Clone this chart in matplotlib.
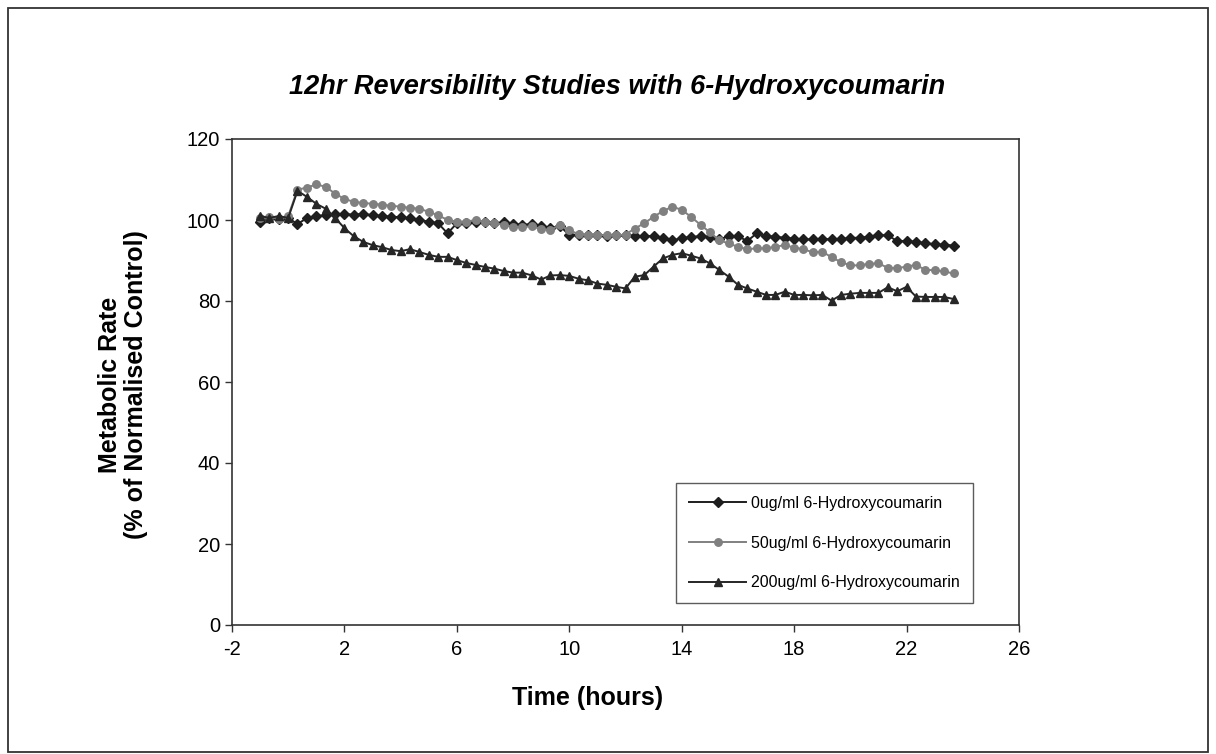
import numpy as np
import matplotlib.pyplot as plt
from matplotlib.patches import Rectangle

# DATA (one point every 20 min)
hours = np.round(np.arange(75) / 3.0 - 1.0, 2)

ctrl_0 = [99.5, 100.5, 100.2, 100.5, 99.0, 100.5, 101.0, 101.2, 101.5, 101.5,
          101.3, 101.5, 101.2, 101.0, 100.8, 100.7, 100.4, 100.0, 99.6, 99.2,
          96.7, 99.2, 99.3, 99.5, 99.6, 99.2, 99.4, 99.0, 98.8, 99.0,
          98.5, 98.0, 98.5, 96.3, 96.4, 96.2, 96.3, 96.1, 96.2, 96.3,
          96.0, 96.1, 96.0, 95.6, 95.0, 95.5, 95.8, 96.0, 95.8, 95.2,
          96.0, 96.0, 94.8, 96.7, 96.0, 95.9, 95.6, 95.4, 95.2, 95.2,
          95.2, 95.3, 95.3, 95.6, 95.6, 95.9, 96.3, 96.2, 94.8, 94.8,
          94.6, 94.3, 94.0, 93.9, 93.7]

dose_50 = [100.5, 100.8, 100.3, 101.0, 107.5, 108.0, 108.8, 108.2, 106.5, 105.2,
           104.5, 104.2, 104.0, 103.8, 103.5, 103.3, 103.0, 102.8, 102.0, 101.2,
           100.0, 99.6, 99.6, 100.0, 99.6, 99.2, 98.8, 98.3, 98.3, 98.4,
           97.8, 97.5, 98.8, 97.5, 96.5, 96.3, 96.2, 96.3, 96.2, 96.4,
           97.9, 99.2, 100.8, 102.2, 103.3, 102.5, 100.8, 98.8, 97.0, 95.0,
           94.2, 93.4, 92.8, 93.0, 93.0, 93.4, 93.8, 93.2, 92.8, 92.0,
           92.2, 90.8, 89.6, 88.8, 88.8, 89.2, 89.3, 88.2, 88.1, 88.5,
           88.9, 87.7, 87.6, 87.3, 86.8]

dose_200 = [101.0, 100.5, 101.0, 100.5, 107.2, 105.7, 104.0, 102.8, 100.5, 98.0,
            96.0, 94.6, 93.8, 93.3, 92.6, 92.3, 92.8, 92.1, 91.4, 90.9,
            90.9, 90.1, 89.4, 88.9, 88.4, 88.0, 87.4, 87.0, 87.0, 86.3,
            85.3, 86.3, 86.4, 86.2, 85.5, 85.1, 84.3, 84.0, 83.5, 83.1,
            86.0, 86.4, 88.5, 90.5, 91.4, 91.8, 91.2, 90.5, 89.3, 87.7,
            86.0, 84.0, 83.1, 82.3, 81.5, 81.5, 82.3, 81.5, 81.5, 81.4,
            81.5, 80.1, 81.5, 81.8, 82.0, 82.0, 82.0, 83.4, 82.4, 83.5,
            81.1, 81.0, 81.0, 81.0, 80.5]

labels = ['0ug/ml 6-Hydroxycoumarin', '50ug/ml 6-Hydroxycoumarin', '200ug/ml 6-Hydroxycoumarin']
x_ticks = [-2, 2, 6, 10, 14, 18, 22, 26]
y_ticks = [0, 20, 40, 60, 80, 100, 120]

plt.rcParams['font.family'] = ['Liberation Sans', 'DejaVu Sans']
plt.rcParams['axes.unicode_minus'] = False

W, H = 1216, 754
fig = plt.figure(figsize=(W / 100, H / 100), dpi=100)

# outer chart frame
fig.patches.append(Rectangle((8 / W, 2 / H), 1200 / W, (H - 10) / H, transform=fig.transFigure,
                             fill=False, edgecolor='#333333', linewidth=1.3))

ax = fig.add_axes([232 / W, 1 - 625 / H, (1019 - 232) / W, (625 - 139) / H])

ax.plot(hours, ctrl_0, color='#1e1e1e', marker='D', markersize=4.8, linewidth=1.4, label=labels[0])
ax.plot(hours, dose_50, color='#808080', marker='o', markersize=5.4, linewidth=1.4, label=labels[1])
ax.plot(hours, dose_200, color='#262626', marker='^', markersize=5.8, linewidth=1.4, label=labels[2])

ax.set_xlim(-2, 26)
ax.set_ylim(0, 120)
ax.set_xticks(x_ticks)
ax.set_yticks(y_ticks)
ax.tick_params(axis='both', direction='out', length=5, width=1, labelsize=14.5, color='#333333')
ax.tick_params(axis='x', pad=6)
for sp in ax.spines.values():
    sp.set_color('#333333')
    sp.set_linewidth(1.2)

fig.text(617 / W, 1 - 87 / H, '12hr Reversibility Studies with 6-Hydroxycoumarin',
         ha='center', va='center', fontsize=19.5, fontweight='bold', fontstyle='italic')
fig.text(588 / W, 1 - 698 / H, 'Time (hours)', ha='center', va='center',
         fontsize=18, fontweight='bold')
fig.text(123 / W, 1 - 385 / H, 'Metabolic Rate\n(% of Normalised Control)', ha='center',
         va='center', rotation=90, fontsize=18, fontweight='bold', linespacing=1.15)

leg = ax.legend(loc='upper left', bbox_to_anchor=((676 - 232) / (1019 - 232), (625 - 483) / (625 - 139)),
                frameon=True, fancybox=False, edgecolor='#333333', fontsize=11.5,
                handlelength=3.6, labelspacing=1.55, borderpad=0.8, handletextpad=0.3,
                borderaxespad=0)
leg.get_frame().set_linewidth(1.0)

fig.savefig('out.png', dpi=100)
